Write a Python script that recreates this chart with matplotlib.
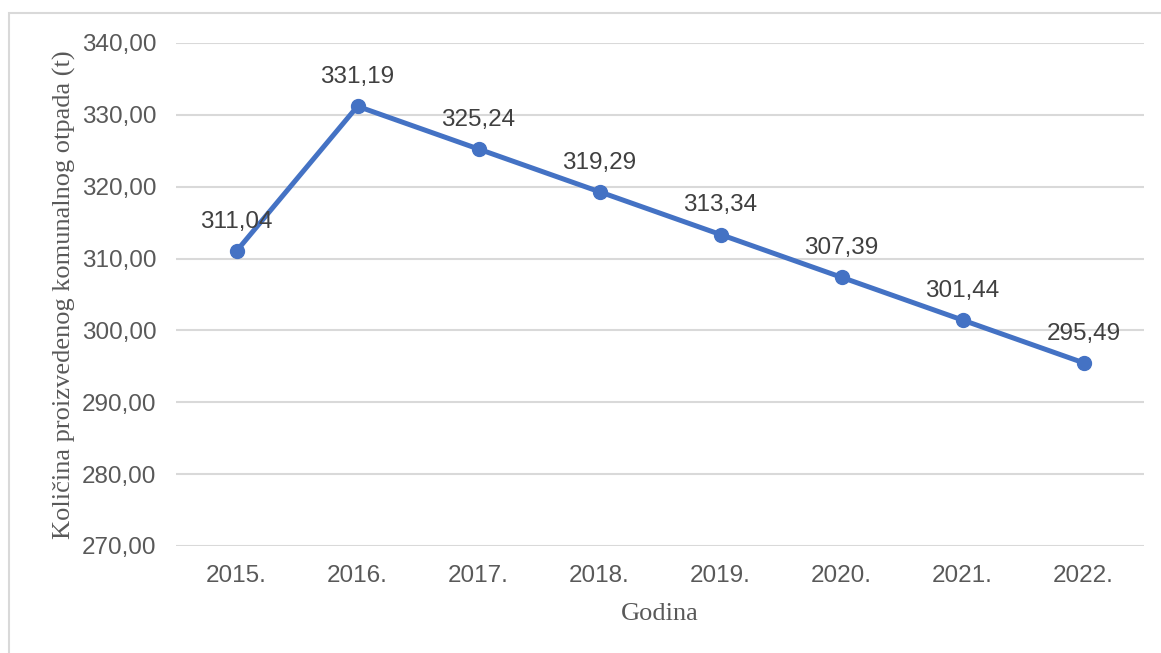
import matplotlib
matplotlib.use("Agg")
import matplotlib.pyplot as plt
from matplotlib.patches import Rectangle

# data
years = ["2015.", "2016.", "2017.", "2018.", "2019.", "2020.", "2021.", "2022."]
waste_t = [311.04, 331.19, 325.24, 319.29, 313.34, 307.39, 301.44, 295.49]
y_ticks = [270, 280, 290, 300, 310, 320, 330, 340]

LINE_COLOR = "#4472C4"
TEXT_COLOR = "#595959"
GRID_COLOR = "#D9D9D9"


def fmt(v):
    return f"{v:.2f}".replace(".", ",")


fig = plt.figure(figsize=(11.61, 6.53), dpi=100)
ax = fig.add_axes([0.1516, 0.1639, 0.9854 - 0.1516, 0.9342 - 0.1639])

# outer chart border (Excel style)
fig.patches.append(Rectangle((9 / 1161, -0.1), 1.2, 1 - 13 / 653 + 0.1,
                             transform=fig.transFigure, fill=False,
                             edgecolor=GRID_COLOR, linewidth=1.5))

x = list(range(len(years)))
ax.plot(x, waste_t, color=LINE_COLOR, linewidth=3.6, marker="o",
        markersize=10, zorder=3)

for xi, v in zip(x, waste_t):
    ax.annotate(fmt(v), (xi, v), xytext=(0, 21), textcoords="offset points",
                ha="center", va="center", fontsize=17.5, color="#404040",
                family="Liberation Sans", zorder=4)

ax.set_xlim(-0.5, len(years) - 0.5)
ax.set_ylim(270, 340)
ax.set_yticks(y_ticks)
ax.set_yticklabels([fmt(t) for t in y_ticks])
ax.set_xticks(x)
ax.set_xticklabels(years)

for lab in ax.get_xticklabels() + ax.get_yticklabels():
    lab.set_family("Liberation Sans")
    lab.set_fontsize(17.5)
    lab.set_color(TEXT_COLOR)

ax.tick_params(length=0)
ax.xaxis.set_tick_params(pad=14)
ax.yaxis.set_tick_params(pad=14)
ax.grid(axis="y", color=GRID_COLOR, linewidth=1.5)
ax.set_axisbelow(True)
for s in ax.spines.values():
    s.set_visible(False)

ax.set_ylabel("Količina proizvedenog komunalnog otpada (t)", family="Liberation Serif",
              fontsize=19, color=TEXT_COLOR, labelpad=4)
ax.set_xlabel("Godina", family="Liberation Serif", fontsize=19, color=TEXT_COLOR,
              labelpad=11)

fig.savefig("out.png", dpi=100)
